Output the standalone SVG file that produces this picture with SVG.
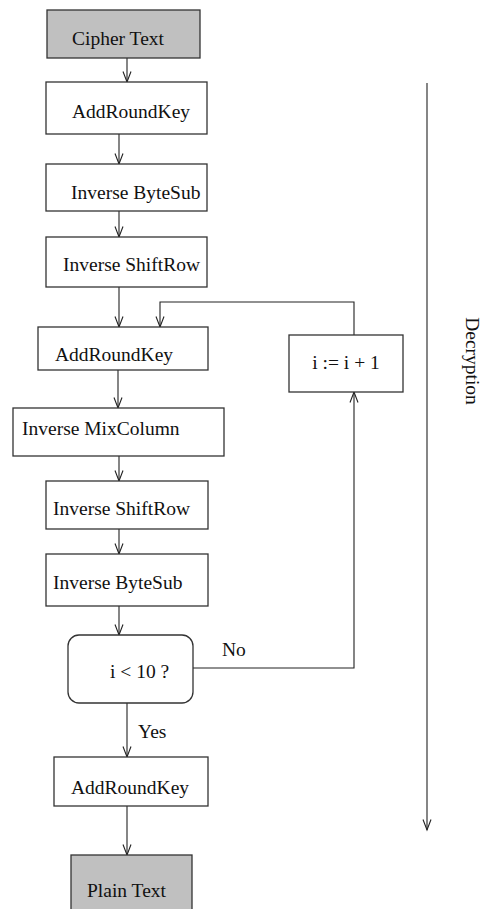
<svg xmlns="http://www.w3.org/2000/svg" width="488" height="909" viewBox="0 0 488 909">
  <defs>
    <style>
      .box { fill: #ffffff; stroke: #333333; stroke-width: 1.3; }
      .term { fill: #c0c0c0; stroke: #333333; stroke-width: 1.3; }
      .lbl { font-family: "Liberation Serif", "Times New Roman", serif; font-size: 19.5px; fill: #111111; }
      .edge { fill: none; stroke: #222222; stroke-width: 1.1; marker-end: url(#vhead); }
    </style>
    <!-- open V arrowhead -->
    <marker id="vhead" markerUnits="userSpaceOnUse" markerWidth="12" markerHeight="10" refX="11" refY="4" orient="auto" overflow="visible">
      <path d="M0.5,0 L11,4 L0.5,8" fill="none" stroke="#222222" stroke-width="1.1"/>
    </marker>
  </defs>

  <rect width="488" height="909" fill="#ffffff"/>

  <!-- connectors -->
  <g id="connectors">
    <line class="edge" x1="127" y1="58" x2="127" y2="82"/>
    <line class="edge" x1="119" y1="134" x2="119" y2="164"/>
    <line class="edge" x1="119" y1="211" x2="119" y2="237"/>
    <line class="edge" x1="119" y1="287" x2="119" y2="327"/>
    <path class="edge" d="M354,335 V302 H160 V327"/>
    <line class="edge" x1="118" y1="370" x2="118" y2="408"/>
    <line class="edge" x1="119" y1="456" x2="119" y2="481"/>
    <line class="edge" x1="119" y1="529" x2="119" y2="554"/>
    <line class="edge" x1="119" y1="606" x2="119" y2="635"/>
    <path class="edge" d="M193,668 H354 V392"/>
    <line class="edge" x1="127" y1="703" x2="127" y2="757"/>
    <line class="edge" x1="127" y1="806" x2="127" y2="855"/>
    <text class="lbl" x="222" y="656">No</text>
    <text class="lbl" x="138" y="738">Yes</text>
  </g>

  <!-- direction of the whole pass -->
  <g id="direction">
    <line class="edge" x1="427" y1="83" x2="427" y2="830"/>
    <text class="lbl" transform="translate(466,361) rotate(90)" text-anchor="middle">Decryption</text>
  </g>

  <g id="cipher-text">
    <rect class="term" x="47" y="10" width="153" height="48"/>
    <text class="lbl" x="72" y="45">Cipher Text</text>
  </g>
  <g id="add-round-key-1">
    <rect class="box" x="46" y="82" width="161" height="52"/>
    <text class="lbl" x="72" y="118">AddRoundKey</text>
  </g>
  <g id="inv-byte-sub-1">
    <rect class="box" x="46" y="164" width="161" height="47"/>
    <text class="lbl" x="71" y="199">Inverse ByteSub</text>
  </g>
  <g id="inv-shift-row-1">
    <rect class="box" x="46" y="237" width="161" height="50"/>
    <text class="lbl" x="63" y="271">Inverse ShiftRow</text>
  </g>
  <g id="add-round-key-2">
    <rect class="box" x="38" y="327" width="170" height="43"/>
    <text class="lbl" x="55" y="361">AddRoundKey</text>
  </g>
  <g id="increment">
    <rect class="box" x="289" y="335" width="114" height="57"/>
    <text class="lbl" x="346" y="369" text-anchor="middle">i := i + 1</text>
  </g>
  <g id="inv-mix-column">
    <rect class="box" x="13" y="408" width="211" height="48"/>
    <text class="lbl" x="22" y="435">Inverse MixColumn</text>
  </g>
  <g id="inv-shift-row-2">
    <rect class="box" x="46" y="481" width="162" height="48"/>
    <text class="lbl" x="53" y="515">Inverse ShiftRow</text>
  </g>
  <g id="inv-byte-sub-2">
    <rect class="box" x="46" y="554" width="162" height="52"/>
    <text class="lbl" x="53" y="589">Inverse ByteSub</text>
  </g>
  <g id="round-check">
    <rect class="box" x="68" y="635" width="125" height="68" rx="11" ry="11"/>
    <text class="lbl" x="110" y="678">i &lt; 10 ?</text>
  </g>
  <g id="add-round-key-3">
    <rect class="box" x="54" y="757" width="154" height="49"/>
    <text class="lbl" x="71" y="794">AddRoundKey</text>
  </g>
  <g id="plain-text">
    <rect class="term" x="71" y="855" width="121" height="64"/>
    <text class="lbl" x="87" y="897">Plain Text</text>
  </g>
</svg>
